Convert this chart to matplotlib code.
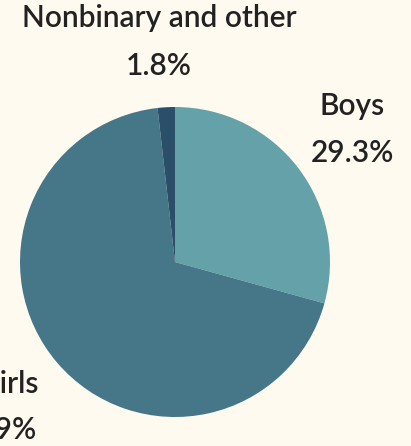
import matplotlib.pyplot as plt

# data
labels = ['Boys', 'Girls', 'Nonbinary and other']
shares = [29.3, 68.9, 1.8]
colors = ['#65a1a9', '#457789', '#2c4f69']
bg = '#fffaf0'

W, H = 411, 446
fig = plt.figure(figsize=(W / 100, H / 100), dpi=100, facecolor=bg)
ax = fig.add_axes([0, 0, 1, 1])
ax.set_facecolor(bg)

cx, cy, r = 175, 262, 155
# y axis is inverted, so counterclock=True draws clockwise on screen
ax.pie(shares, colors=colors, startangle=-90, counterclock=True,
       center=(cx, cy), radius=r, frame=True,
       wedgeprops=dict(linewidth=0))
ax.set_xlim(0, W)
ax.set_ylim(H, 0)
ax.set_aspect('equal')
ax.axis('off')

font = dict(family=['Lato', 'DejaVu Sans'], color='#222222', ha='center', va='center',
            fontsize=21.5, fontweight='semibold')
# (label x, label y, value x, value y)
pos = {'Boys': (352, 106, 352, 153),
       'Girls': (9, 384, -5, 430),
       'Nonbinary and other': (159, 18, 159, 66)}
for lab, val in zip(labels, shares):
    x1, y1, x2, y2 = pos[lab]
    ax.text(x1, y1, lab, **font)
    ax.text(x2, y2, f'{val}%', **font)

fig.savefig('out.png', dpi=100, facecolor=bg)
